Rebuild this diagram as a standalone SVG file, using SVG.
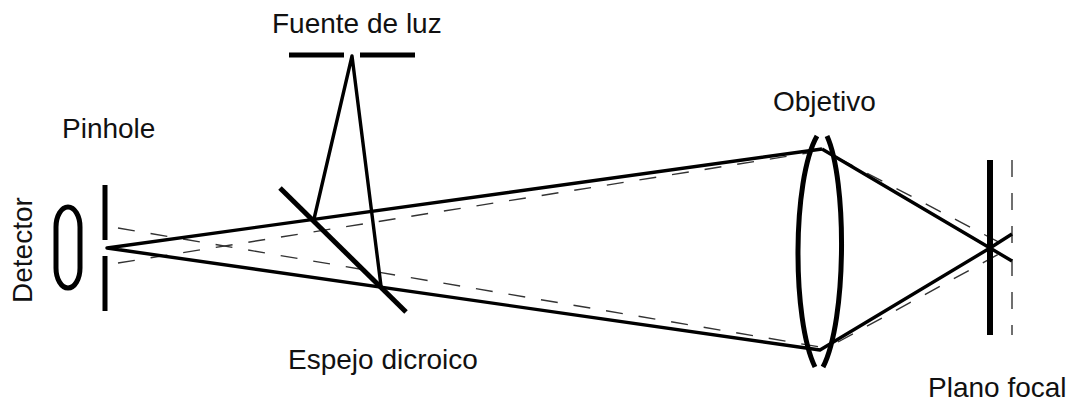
<svg xmlns="http://www.w3.org/2000/svg" width="1070" height="402" viewBox="0 0 1070 402">
<style>
.t{font-family:"Liberation Sans",Arial,sans-serif;font-size:28px;fill:#111}
.b{fill:none;stroke:#000;stroke-width:5}
.m{fill:none;stroke:#000;stroke-width:5}
.e{fill:none;stroke:#000;stroke-width:5}
.r{fill:none;stroke:#000;stroke-width:3.4;stroke-linejoin:round}
.d{fill:none;stroke:#333;stroke-width:1.4;stroke-dasharray:17 16}
</style>
<rect width="1070" height="402" fill="#fff"/>
<g id="connectors">
<path class="d" d="M118 228L820 347"/>
<path class="d" d="M118 263L808 153"/>
<path class="d" d="M838 158L1010 248"/>
<path class="d" d="M838 342L1010 248"/>
<path class="d" d="M1012 160V335"/>
<path class="r" d="M822 149L107 248L820 350L990 248L1012 234"/>
<path class="r" d="M822 149L990 248L1012 261"/>
<path class="r" d="M314 219L352 56L381 286"/>
</g>
<g id="detector"><rect x="56" y="207" width="24" height="81" rx="12" ry="20" fill="none" stroke="#000" stroke-width="5"/><text class="t" transform="translate(32,303) rotate(-90)">Detector</text></g>
<g id="pinhole"><path class="b" d="M105 185V240M105 256V311"/><text class="t" x="62" y="138">Pinhole</text></g>
<g id="fuente"><path class="b" d="M289 55H344M360 55H415"/><text class="t" x="272" y="33">Fuente de luz</text></g>
<g id="espejo"><path class="m" d="M280 188L406 312"/><text class="t" x="288" y="369">Espejo dicroico</text></g>
<g id="objetivo"><path class="e" d="M817 136C792 180 792 320 815 367"/><path class="e" d="M827 136C847 180 847 320 823 367"/><text class="t" x="773" y="111">Objetivo</text></g>
<g id="plano"><path d="M990 160V335" fill="none" stroke="#000" stroke-width="6"/><text class="t" x="928" y="397">Plano focal</text></g>
</svg>
